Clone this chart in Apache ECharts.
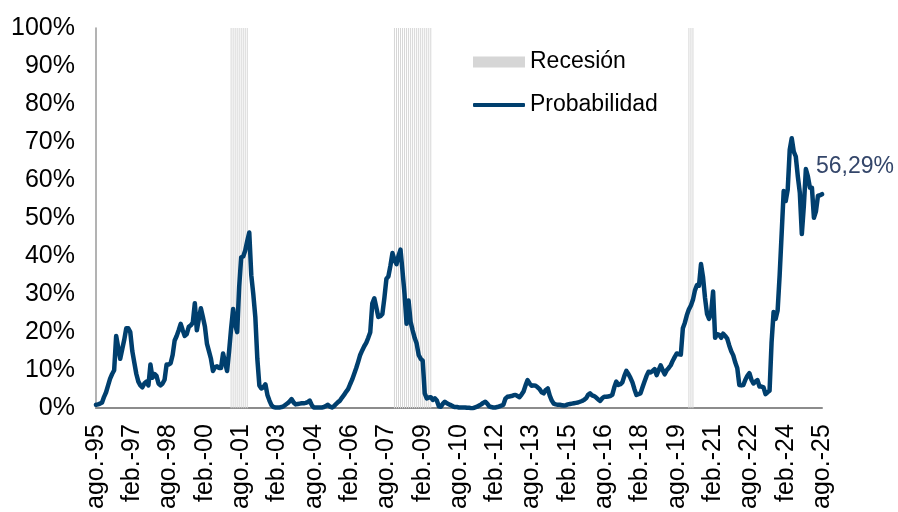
<!DOCTYPE html>
<html>
<head>
<meta charset="utf-8">
<script src="https://cdn.jsdelivr.net/npm/echarts@6/dist/echarts.min.js"></script>
<style>
  html, body { margin: 0; padding: 0; background: #fff; }
  #chart { width: 898px; height: 512px; }
</style>
</head>
<body>
<div id="chart"></div>
<script>
// Monthly series from Aug 1995 to Aug 2025
const startYear = 1995;
const startMonth = 8; // agosto
const monthNames = ['ene.', 'feb.', 'mar.', 'abr.', 'may.', 'jun.', 'jul.', 'ago.', 'sep.', 'oct.', 'nov.', 'dic.'];

// Recession probability (%)
const probabilidad = [
  0.9, 1.0, 1.2, 1.5, 3.0, 4.2, 6.0, 7.8, 9.0, 10.0,
  19.0, 16.0, 13.0, 15.5, 18.0, 21.0, 21.0, 20.0, 15.0, 12.0,
  9.0, 7.0, 6.0, 5.5, 6.5, 7.0, 6.0, 11.5, 8.0, 9.0,
  8.5, 6.5, 6.0, 6.5, 7.5, 11.5, 11.5, 11.8, 14.0, 17.8,
  19.0, 20.5, 22.2, 20.5, 19.0, 19.5, 21.4, 21.8, 22.5, 27.6,
  20.5, 23.5, 26.3, 24.0, 21.5, 17.0, 15.0, 13.0, 9.8, 10.8,
  11.0, 10.6, 10.6, 14.4, 12.0, 9.8, 15.0, 21.0, 26.1, 22.0,
  20.0, 32.0, 39.7, 39.9, 41.5, 44.0, 46.2, 35.0, 30.0, 24.0,
  13.0, 6.0, 5.2, 5.5, 6.3, 3.5, 2.0, 0.8, 0.3, 0.2,
  0.2, 0.2, 0.3, 0.5, 0.9, 1.3, 1.8, 2.4, 1.5, 1.0,
  1.1, 1.2, 1.3, 1.3, 1.4, 1.6, 2.0, 0.8, 0.2, 0.2,
  0.2, 0.2, 0.2, 0.3, 0.6, 0.9, 0.4, 0.2, 0.5, 1.1,
  1.6, 2.0, 2.8, 3.5, 4.3, 5.0, 6.3, 7.5, 9.0, 10.5,
  12.2, 14.0, 15.2, 16.3, 17.2, 18.5, 20.0, 27.5, 28.9, 26.5,
  24.0, 24.2, 24.8, 29.0, 34.0, 34.7, 37.5, 40.8, 39.0, 37.9,
  40.1, 41.7, 36.0, 30.0, 22.2, 28.3, 22.7, 20.5, 18.5, 17.0,
  14.0, 13.0, 12.5, 3.9, 2.6, 2.8, 2.9, 2.2, 2.6, 2.0,
  0.5, 0.4, 1.2, 1.7, 1.3, 1.0, 0.8, 0.5, 0.3, 0.3,
  0.2, 0.2, 0.2, 0.2, 0.1, 0.1, 0.0, 0.0, 0.2, 0.4,
  0.7, 1.0, 1.4, 1.7, 1.2, 0.5, 0.3, 0.2, 0.2, 0.3,
  0.5, 0.7, 0.9, 2.5, 3.0, 3.1, 3.2, 3.4, 3.5, 3.2,
  2.9, 3.6, 4.4, 6.0, 7.4, 6.5, 5.9, 6.0, 5.9, 5.5,
  5.0, 4.2, 3.9, 4.8, 5.2, 3.3, 2.0, 1.2, 1.0, 0.9,
  0.9, 0.8, 0.7, 0.8, 1.0, 1.1, 1.2, 1.3, 1.4, 1.5,
  1.7, 1.9, 2.2, 2.6, 3.5, 3.9, 3.4, 3.2, 2.8, 2.3,
  1.9, 2.6, 3.0, 3.0, 3.1, 3.2, 3.5, 5.5, 7.0, 6.1,
  6.3, 6.8, 8.5, 9.8, 9.0, 8.0, 6.8, 5.0, 3.5, 3.7,
  3.9, 5.5, 7.0, 8.5, 9.6, 9.4, 9.8, 10.3, 8.7, 10.0,
  11.3, 10.0, 8.9, 10.0, 10.6, 11.3, 12.5, 13.5, 14.4, 14.2,
  14.1, 21.0, 22.5, 24.5, 26.0, 27.0, 28.5, 31.0, 32.4, 32.2,
  37.9, 34.5, 29.0, 24.8, 23.5, 25.0, 30.7, 18.5, 19.5, 19.3,
  18.5, 19.6, 19.0, 18.3, 16.5, 15.0, 13.9, 12.0, 10.5, 6.1,
  6.0, 6.1, 7.5, 8.5, 9.2, 7.5, 6.5, 7.0, 7.4, 5.7,
  5.7, 5.5, 3.7, 4.2, 4.6, 17.4, 25.3, 23.5, 25.7, 35.0,
  46.0, 57.1, 54.5, 57.5, 68.0, 71.0, 67.5, 66.2, 61.0, 56.7,
  45.8, 53.2, 62.9, 61.0, 58.0, 58.0, 50.1, 51.8, 55.9, 56.0,
  56.29
];

// NBER recession periods [first month, last month]
const recesiones = [
  [[2001, 3], [2001, 11]],
  [[2007, 12], [2009, 6]],
  [[2020, 2], [2020, 4]]
];

const categorias = probabilidad.map(function (_, i) {
  const m = (startMonth - 1 + i) % 12;
  const y = startYear + Math.floor((startMonth - 1 + i) / 12);
  return monthNames[m] + '-' + String(y % 100).padStart(2, '0');
});

function monthIndex(ym) {
  return (ym[0] - startYear) * 12 + (ym[1] - startMonth);
}

const recesionData = probabilidad.map(function (_, i) {
  for (const r of recesiones) {
    if (i >= monthIndex(r[0]) && i <= monthIndex(r[1])) return 100;
  }
  return '-';
});

const FONT = '"Liberation Sans", Arial, Helvetica, sans-serif';
const chart = echarts.init(document.getElementById('chart'), null, { renderer: 'canvas' });

chart.setOption({
  animation: false,
  backgroundColor: '#ffffff',
  grid: { left: 96, top: 28, width: 726, height: 382, containLabel: false },
  legend: [
    {
      data: ['Recesión'],
      left: 473, top: 50.5, padding: 0,
      itemWidth: 52, itemHeight: 11, icon: 'rect',
      textStyle: { fontFamily: FONT, fontSize: 23, color: '#000' }
    },
    {
      data: ['Probabilidad'],
      left: 473, top: 93.5, padding: 0,
      itemWidth: 52, itemHeight: 4, icon: 'roundRect',
      textStyle: { fontFamily: FONT, fontSize: 23, color: '#000' }
    }
  ],
  xAxis: {
    type: 'category',
    data: categorias,
    boundaryGap: false,
    axisLine: { show: true, lineStyle: { color: '#8c8c8c', width: 2 } },
    axisTick: { show: false },
    splitLine: { show: false },
    axisLabel: {
      interval: 17,
      rotate: 90,
      margin: 16,
      fontFamily: FONT,
      fontSize: 25,
      color: '#000'
    }
  },
  yAxis: {
    type: 'value',
    min: 0, max: 100, interval: 10,
    axisLine: { show: true, lineStyle: { color: '#9a9a9a', width: 1.5 } },
    axisTick: { show: false },
    splitLine: { show: false },
    axisLabel: {
      formatter: '{value}%',
      margin: 21,
      fontFamily: FONT,
      fontSize: 25,
      color: '#000'
    }
  },
  series: [
    {
      name: 'Recesión',
      type: 'bar',
      data: recesionData,
      barWidth: 1,
      silent: true,
      itemStyle: { color: '#d6d6d6' },
      z: 1
    },
    {
      name: 'Probabilidad',
      type: 'line',
      data: probabilidad,
      symbol: 'none',
      silent: true,
      lineStyle: { color: '#003f6e', width: 4.5, join: 'round', cap: 'round' },
      itemStyle: { color: '#003f6e' },
      endLabel: {
        show: true,
        distance: 0,
        offset: [-6, -28],
        fontFamily: FONT,
        fontSize: 23,
        color: '#34466a',
        formatter: function (p) {
          return p.value.toFixed(2).replace('.', ',') + '%';
        }
      },
      z: 3
    }
  ]
});
</script>
</body>
</html>
